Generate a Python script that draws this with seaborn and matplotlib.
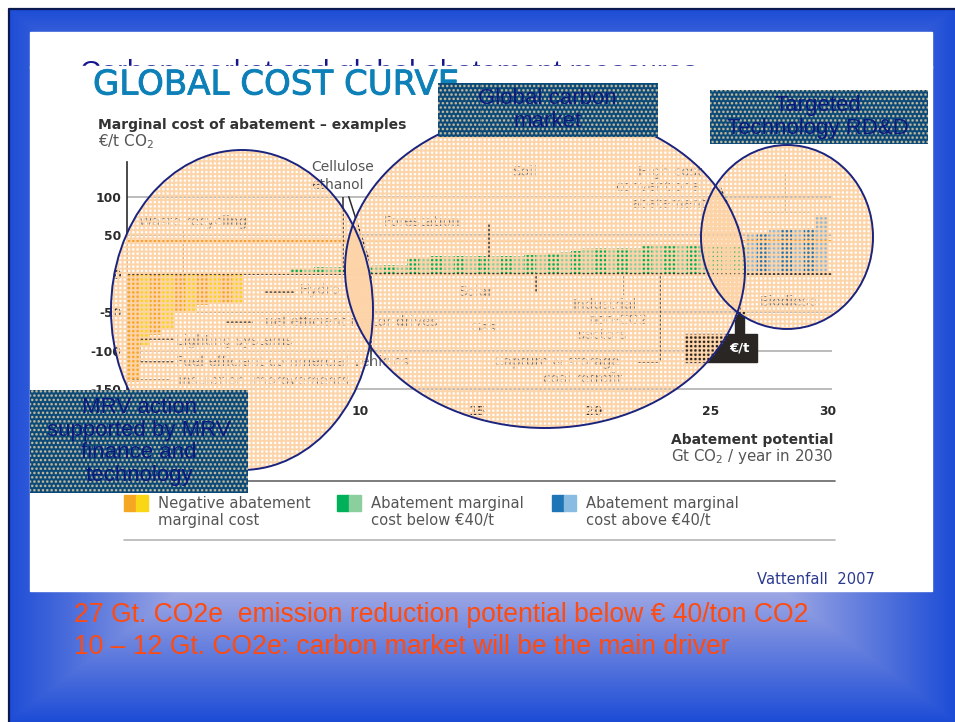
# Global cost curve slide, rebuilt with seaborn bars and a stippled overlay on top
import numpy as np
import pandas as pd
import matplotlib.pyplot as plt
import matplotlib.patheffects as pe
from matplotlib.patches import Ellipse, Rectangle
import seaborn as sns

# Cost of each 0.5 Gt column of the curve
gt_mid = [0.25, 0.75, 1.25, 1.75, 2.25, 2.75, 3.25, 3.75, 4.25, 4.75,
          7.25, 7.75, 8.25, 8.75, 9.25, 9.75, 10.25, 10.75, 11.25, 11.75,
          12.25, 12.75, 13.25, 13.75, 14.25, 14.75, 15.25, 15.75, 16.25, 16.75,
          17.25, 17.75, 18.25, 18.75, 19.25, 19.75, 20.25, 20.75, 21.25, 21.75,
          22.25, 22.75, 23.25, 23.75, 24.25, 24.75, 25.25, 25.75, 26.25,
          26.75, 27.25, 27.75, 28.25, 28.75, 29.25, 29.75]
cost = [-140, -92, -80, -73, -51, -51, -40, -38, -38, -38,
        6, 8, 9, 9, 9, 10, 10, 11, 11, 11,
        20, 20, 23, 23, 23, 23, 23, 23, 23, 23,
        24, 25, 26, 28, 30, 34, 34, 34, 34, 34,
        36, 36, 36, 36, 36, 36, 36, 36, 36,
        50, 52, 57, 57, 57, 60, 76]
y_ticks = [100, 50, 0, -50, -100, -150]
y_labels = ['100', '50', '0', '-50', '-100', '-150']
x_ticks = [5, 10, 15, 20, 25, 30]
threshold = 43  # the orange line as it sits on the picture

# Leader lines: x, top, bottom in chart units
leader_x = [2.4, 9.26, 15.5, 17.5, 21.3, 22.85, 28.2, 26.3, 10.45, 0.55]
leader_top = [55, 100, 64, 0, 0, 0, 132, 0, 0, -85]
leader_bottom = [-15, 0, 22, -25, -27, -115, 80, -50, -120, -118]
# Short horizontal leaders: y, x start, x end
hline_y = [-23, -63, -85, -115, -138, -50, 80, -115]
hline_x0 = [5.9, 4.2, 0.55, 0.55, 0.2, 3.0, 27.2, 21.9]
hline_x1 = [7.2, 5.4, 2.0, 2.0, 1.9, 9.5, 29.2, 22.85]

labels = [
    (0.5, 67, 'Waste recycling'), (7.4, -21, 'Hydro'),
    (5.6, -63, 'Fuel efficient motor drives'), (2.1, -87, 'Lighting systems'),
    (2.1, -115, 'Fuel efficient commercial vehicles'),
    (2.2, -139, 'Insulation improvements'), (11.0, 67, 'Forestation'),
    (16.5, 132, 'Soil'), (14.2, -24, 'Solar'), (14.7, -70, 'Gas'),
    (19.1, -40, 'Industrial'), (19.8, -60, 'non-CO2'), (19.3, -79, 'sectors'),
    (15.7, -115, 'Capture & storage'), (17.8, -136, 'coal retrofit'),
    (21.9, 132, 'High cost'), (20.9, 112, 'conventional'),
    (21.6, 91, 'abatement'), (27.1, -37, 'Biodiesel'),
]

legend_text = ['Negative abatement\nmarginal cost',
               'Abatement marginal\ncost below €40/t',
               'Abatement marginal\ncost above €40/t']
legend_x = [158, 371, 586]
legend_colors = [('#f5a623', '#f9d616'), ('#00b15a', '#8ccf9f'), ('#1f75b5', '#8abbe0')]

sns.set_theme(style='white')
plt.rcParams['font.family'] = ['DejaVu Sans']
W, H = 955, 722
TEXT = '#555555'
DARK = '#2b2b2b'

fig = plt.figure(figsize=(W / 100, H / 100), dpi=100, facecolor='white')

# Background layer, in pixels
bg = fig.add_axes([0, 0, 1, 1], zorder=0)
bg.set_xlim(0, W)
bg.set_ylim(H, 0)
bg.axis('off')
xx, yy = np.meshgrid(np.arange(W) + 0.5, np.arange(H) + 0.5)
t = np.maximum(np.abs(xx - 481) / 474, np.abs(yy - 365) / 357)
t = np.clip((t - 0.64) / 0.36, 0, 1)[..., None]
light = np.array([156, 166, 228]) / 255
blue = np.array([28, 76, 214]) / 255
grad = light * (1 - t) + blue * t
grad[(xx < 8) | (yy < 8)] = 1
bg.imshow(grad, extent=(0, W, H, 0), aspect='auto', interpolation='nearest')
bg.plot([9, 9, W], [H, 9, 9], color='#0a1a50', lw=1.6, solid_capstyle='butt')
bg.add_patch(Rectangle((30, 32), 902, 36, color='white', zorder=2))

# Old slide title, only the tops of its letters stick out above the pasted picture
bg.text(80, 81, 'Carbon market and global abatement measures', fontsize=21,
        color='#14148c', family='Liberation Sans', zorder=3)
bg.add_patch(Rectangle((30, 66), 902, 525, color='white', zorder=3.5))

bg.text(93, 85, 'GLOBAL COST CURVE', fontsize=24.5, color='#0d80b8', va='center', zorder=4,
        path_effects=[pe.withStroke(linewidth=0.6, foreground='#0d80b8')])
bg.text(98, 125, 'Marginal cost of abatement – examples', fontsize=10, weight='bold',
        color='#333333', va='center', zorder=4)
bg.text(98, 142, '€/t CO$_2$', fontsize=11, color=TEXT, va='center', zorder=4)
bg.text(311, 167, 'Cellulose', fontsize=10, color=TEXT, va='center', zorder=4)
bg.text(311, 185, 'ethanol', fontsize=10, color=TEXT, va='center', zorder=4)
bg.text(833, 440, 'Abatement potential', fontsize=10, weight='bold', color='#333333',
        ha='right', va='center', zorder=4)
bg.text(833, 457, 'Gt CO$_2$ / year in 2030', fontsize=10.8, color=TEXT, ha='right',
        va='center', zorder=4)
bg.plot([124, 835], [481, 481], color='#666666', lw=1.2, zorder=4)
bg.plot([124, 835], [540, 540], color='#b5b5b5', lw=1.2, zorder=4)
for x0, txt, (c1, c2) in zip(legend_x, legend_text, legend_colors):
    sw = x0 - 34
    bg.add_patch(Rectangle((sw, 495), 12, 16, color=c1, zorder=4))
    bg.add_patch(Rectangle((sw + 12, 495), 12, 16, color=c2, zorder=4))
    bg.text(x0, 512, txt, fontsize=10.6, color=TEXT, va='center', linespacing=1.15, zorder=4)
bg.text(875, 579, 'Vattenfall  2007', fontsize=10.6, color='#2b3a8f', ha='right', va='center', zorder=4)
bg.text(74, 615, '27 Gt. CO2e  emission reduction potential below € 40/ton CO2', fontsize=19.1,
        color='#ff4a10', family='Liberation Sans', va='center', zorder=4)
bg.text(74, 647, '10 – 12 Gt. CO2e: carbon market will be the main driver', fontsize=19.1,
        color='#ff4a10', family='Liberation Sans', va='center', zorder=4)

# Chart layer: left 127, right 832, top 162, bottom 391 in pixels
ax = fig.add_axes([127 / W, 1 - 391 / H, 705 / W, 229 / H], zorder=1)
ax.patch.set_alpha(0)
df = pd.DataFrame({'gt': gt_mid, 'cost': cost})
df['family'] = np.where(df['cost'] < 0, 0, np.where(df['gt'] < 26.5, 1, 2))
df['shade'] = (df['gt'] * 2).astype(int) % 2
df['group'] = df['family'].astype(str) + df['shade'].astype(str)
palette = {f'{i}{j}': legend_colors[i][j] for i in range(3) for j in range(2)}
for yv in [100, 50, -50, -100, -150]:
    ax.axhline(yv, color='#b0b0b0', lw=1.2, zorder=0)
sns.barplot(data=df, x='gt', y='cost', hue='group', palette=palette, native_scale=True,
            dodge=False, width=1, errorbar=None, legend=False, ax=ax, zorder=2,
            saturation=1, edgecolor='none', linewidth=0)
ax.axhline(0, color=DARK, lw=1.3, zorder=3)
ax.axhline(threshold, color='#f5a030', lw=1.6, zorder=3)
ax.vlines(leader_x, leader_bottom, leader_top, color=DARK, lw=1.1, zorder=4)
ax.hlines(hline_y, hline_x0, hline_x1, color=DARK, lw=1.1, zorder=4)
ax.plot([9.5, 10.4], [100, 15], color=DARK, lw=1.1, zorder=4)
ax.plot([25.4, 26.2], [113, 60], color=DARK, lw=1.1, zorder=4)
for lx, ly, txt in labels:
    ax.text(lx, ly, txt, fontsize=9.8, color='#707070', va='center', zorder=5)
ax.set_xlim(0, 30.2)
ax.set_ylim(-152, 145)
ax.set_xticks(x_ticks)
ax.set_yticks(y_ticks)
ax.set_yticklabels(y_labels, fontsize=8.8, weight='bold', color=DARK)
ax.set_xticklabels(x_ticks, fontsize=8.8, weight='bold', color=DARK)
ax.tick_params(axis='x', length=0, pad=10)
ax.tick_params(axis='y', length=0, pad=4)
ax.set_xlabel('')
ax.set_ylabel('')
for side in ['top', 'right', 'bottom']:
    ax.spines[side].set_visible(False)
ax.spines['left'].set_color(DARK)
ax.spines['left'].set_linewidth(1.2)

# The black tag of the €/t marker
tag = fig.add_axes([0, 0, 1, 1], zorder=1.5)
tag.set_xlim(0, W)
tag.set_ylim(H, 0)
tag.axis('off')
tag.add_patch(Rectangle((685, 334), 72, 28, color='#2a2624'))
tag.add_patch(Rectangle((735, 312), 9, 24, color='#2a2624'))
tag.text(739, 348, '€/t', fontsize=9.5, weight='bold', color='white', ha='center', va='center')


def soft_dots(shift_x, shift_y, period=4.3):
    # smooth lattice of dots, 1 in the middle of a dot and 0 between them
    cx = (1 + np.cos(2 * np.pi * (xx + shift_x) / period)) / 2
    cy = (1 + np.cos(2 * np.pi * (yy + shift_y) / period)) / 2
    return np.clip(1.45 * cx * cy - 0.1, 0, 1)


# Stippled ellipses laid over the chart, each with its dots shifted
over = fig.add_axes([0, 0, 1, 1], zorder=2)
over.set_xlim(0, W)
over.set_ylim(H, 0)
over.axis('off')
peach = np.array([253, 211, 168]) / 255
shapes = [(242, 310, 131, 160, 0.0), (545, 269, 200, 159, 2.15), (787, 237, 86, 92, 1.0)]
hole = np.ones((H, W))
for cx, cy, rx, ry, sh in shapes:
    inside = ((xx - cx) / rx) ** 2 + ((yy - cy) / ry) ** 2 <= 1
    hole = np.where(inside, hole * soft_dots(sh, sh), hole)
rgba = np.zeros((H, W, 4))
rgba[..., :3] = peach
rgba[..., 3] = 1 - hole
over.imshow(rgba, extent=(0, W, H, 0), aspect='auto', interpolation='nearest', zorder=1)
for cx, cy, rx, ry, sh in shapes:
    over.add_patch(Ellipse((cx, cy), 2 * rx, 2 * ry, fill=False, ec='#1a237e', lw=1.4, zorder=2))

# Dark stippled boxes on top of the ellipses, rows of dots staggered
boxes = [(438, 83, 219, 54, 'Global carbon\nmarket'),
         (709, 90, 218, 54, 'Targeted\nTechnology RD&D'),
         (30, 390, 218, 103, 'MRV action\nsupported by MRV\nfinance and\ntechnology')]
box_rgba = np.zeros((H, W, 4))
row_shift = (np.floor((yy + 2.15) / 4.3) % 2) * 2.15
spots = np.clip(soft_dots(row_shift, 0.0) * 0.8, 0, 1)[..., None]
box_dark = np.array([11, 74, 120]) / 255
box_dot = np.array([235, 210, 165]) / 255
box_color = box_dark * (1 - spots) + box_dot * spots
for bx, by, bw, bh, txt in boxes:
    inside = (xx >= bx) & (xx < bx + bw) & (yy >= by) & (yy < by + bh)
    box_rgba[inside, :3] = box_color[inside]
    box_rgba[inside, 3] = 1
    over.text(bx + bw / 2, by + bh / 2, txt, fontsize=16, color='#0b1a7f', family='Liberation Sans',
              ha='center', va='center', linespacing=1.1, zorder=4)
over.imshow(box_rgba, extent=(0, W, H, 0), aspect='auto', interpolation='nearest', zorder=3)
over.set_xlim(0, W)
over.set_ylim(H, 0)

plt.savefig('out.png', dpi=100)
